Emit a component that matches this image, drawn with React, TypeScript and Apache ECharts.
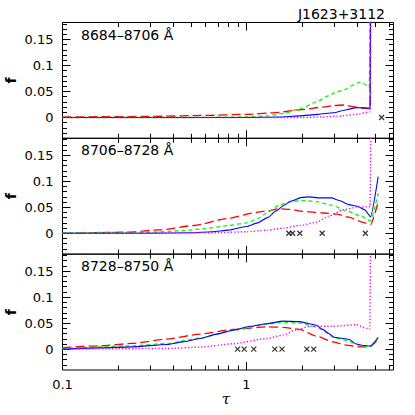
import React, { useEffect, useRef } from "react";
import * as echarts from "echarts";

// ---- data ----
const PANEL_LABELS = ["8684–8706 Å", "8706–8728 Å", "8728–8750 Å"];
const TITLE = "J1623+3112";

const TAU_MAJOR = [0.1, 1];
const TAU_MINOR = [0.2, 0.3, 0.4, 0.5, 0.6, 0.7, 0.8, 0.9, 2, 3, 4, 5, 6];
const F_MAJOR = [0, 0.05, 0.1, 0.15];
const F_MINOR = [-0.03, -0.02, -0.01, 0.01, 0.02, 0.03, 0.04, 0.06, 0.07, 0.08, 0.09, 0.11, 0.12, 0.13, 0.14, 0.16, 0.17, 0.18];

// panel 1
const red1 = [[0.1, 0.001], [0.3, 0.002], [0.6, 0.004], [1, 0.006], [1.4, 0.009], [2, 0.015], [2.6, 0.02], [3.0, 0.023], [3.4, 0.024], [3.8, 0.021], [4.2, 0.018], [4.7, 0.017], [4.76, 0.5]];
const green1 = [[0.1, 0], [0.5, 0], [1, 0.001], [1.3, 0.003], [1.6, 0.008], [2, 0.018], [2.4, 0.03], [2.8, 0.042], [3.1, 0.049], [3.4, 0.053], [3.8, 0.062], [4.15, 0.068], [4.4, 0.064], [4.65, 0.057], [4.76, 0.5]];
const blue1 = [[0.1, 0], [0.5, 0], [1, 0], [1.5, 0.001], [1.94, 0.003], [2.45, 0.006], [2.96, 0.009], [3.5, 0.015], [3.95, 0.019], [4.4, 0.0185], [4.7, 0.018], [4.76, 0.5]];
const magenta1 = [[0.1, 0], [1, 0], [2, 0], [2.6, 0.001], [3.3, 0.003], [4.1, 0.007], [4.7, 0.011], [4.77, 0.5]];
const marks1 = [5.43];

// panel 2
const red2 = [[0.1, 0], [0.22, 0.002], [0.34, 0.0065], [0.52, 0.015], [0.78, 0.028], [1.13, 0.04], [1.3, 0.043], [1.5, 0.047], [1.72, 0.046], [2.03, 0.042], [2.6, 0.039], [3.1, 0.037], [3.6, 0.031], [4.3, 0.021], [4.72, 0.016], [5.2, 0.06]];
const green2 = [[0.1, 0.001], [0.3, 0.002], [0.45, 0.005], [0.6, 0.009], [0.8, 0.015], [1, 0.02], [1.15, 0.028], [1.3, 0.04], [1.5, 0.054], [1.75, 0.061], [2.0, 0.063], [2.4, 0.061], [2.9, 0.054], [3.5, 0.043], [4.2, 0.033], [4.72, 0.024], [5.2, 0.077]];
const blue2 = [[0.1, 0], [0.3, 0], [0.5, 0.001], [0.65, 0.003], [0.8, 0.006], [1, 0.013], [1.15, 0.02], [1.3, 0.03], [1.45, 0.043], [1.6, 0.054], [1.75, 0.062], [2.0, 0.069], [2.2, 0.07], [2.5, 0.068], [2.9, 0.068], [3.2, 0.063], [3.6, 0.055], [4.0, 0.052], [4.4, 0.045], [4.72, 0.032], [5.2, 0.109]];
const magenta2 = [[0.1, 0], [0.7, 0.001], [1, 0.003], [1.3, 0.006], [1.6, 0.01], [1.95, 0.015], [2.4, 0.021], [2.8, 0.033], [3.35, 0.045], [3.95, 0.05], [4.7, 0.051], [4.8, 0.5]];
const marks2 = [1.7, 1.78, 1.95, 2.58, 4.43];

// panel 3
const red3 = [[0.1, 0.003], [0.16, 0.0065], [0.24, 0.011], [0.37, 0.0195], [0.56, 0.029], [0.85, 0.038], [1.29, 0.043], [1.58, 0.042], [1.94, 0.038], [2.4, 0.025], [2.96, 0.014], [3.5, 0.0077], [4.1, 0.0045], [4.65, 0.004], [5.2, 0.019]];
const green3 = [[0.1, 0.0013], [0.24, 0.0065], [0.37, 0.011], [0.56, 0.0215], [0.85, 0.0365], [1.29, 0.048], [1.58, 0.052], [1.94, 0.05], [2.4, 0.043], [2.7, 0.033], [3.0, 0.022], [3.5, 0.017], [3.95, 0.0096], [4.3, 0.006], [4.7, 0.005], [5.2, 0.021]];
const blue3 = [[0.1, 0], [0.16, 0.0025], [0.24, 0.0045], [0.37, 0.009], [0.45, 0.014], [0.56, 0.0205], [0.69, 0.029], [0.85, 0.0365], [1.05, 0.044], [1.29, 0.049], [1.58, 0.054], [1.94, 0.053], [2.2, 0.049], [2.4, 0.046], [2.6, 0.038], [2.8, 0.03], [3.0, 0.023], [3.3, 0.021], [3.6, 0.019], [3.95, 0.01], [4.3, 0.007], [4.7, 0.006], [5.2, 0.023]];
const magenta3 = [[0.1, 0], [0.37, 0.0013], [0.56, 0.004], [0.85, 0.0105], [1.29, 0.0205], [1.58, 0.027], [1.87, 0.037], [2.2, 0.044], [2.96, 0.044], [3.95, 0.047], [4.5, 0.04], [4.68, 0.038], [4.78, 0.5]];
const marks3 = [0.895, 0.972, 1.096, 1.426, 1.56, 2.13, 2.32];

const PANELS = [
  { red: red1, green: green1, blue: blue1, magenta: magenta1, marks: marks1 },
  { red: red2, green: green2, blue: blue2, magenta: magenta2, marks: marks2 },
  { red: red3, green: green3, blue: blue3, magenta: magenta3, marks: marks3 },
];

// ---- layout ----
const GRID_LEFT = 62.5;
const GRID_WIDTH = 331;
const GRID_TOPS = [22.5, 138.3, 254.2];
const GRID_HEIGHT = 115.8;
const X_MIN = 0.1;
const X_MAX = 6.3;
const Y_MIN = -0.04;
const Y_MAX = 0.1825;
const FONT = "DejaVu Sans";

const fmt = (v: number) => String(Number(v.toFixed(4)));

export default function App() {
  const ref = useRef<HTMLDivElement>(null);
  useEffect(() => {
    if (!ref.current) return;
    const chart = echarts.init(ref.current, null, { renderer: "svg" });

    const grid: any[] = [];
    const xAxis: any[] = [];
    const yAxis: any[] = [];
    const series: any[] = [];
    const graphic: any[] = [];

    GRID_TOPS.forEach((top, g) => {
      grid.push({
        left: GRID_LEFT,
        width: GRID_WIDTH,
        top,
        height: GRID_HEIGHT,
        show: true,
        borderColor: "#000",
        borderWidth: 1,
        backgroundColor: "transparent",
      });
      const xDefs = [
        { pos: "bottom", vals: TAU_MAJOR, len: 8, label: g === 2 },
        { pos: "bottom", vals: TAU_MINOR, len: 4.5, label: false },
        { pos: "top", vals: TAU_MAJOR, len: 8, label: false },
        { pos: "top", vals: TAU_MINOR, len: 4.5, label: false },
      ];
      xDefs.forEach((d) => {
        xAxis.push({
          type: "log",
          logBase: 10,
          gridIndex: g,
          position: d.pos,
          min: X_MIN,
          max: X_MAX,
          axisLine: { show: false, onZero: false },
          splitLine: { show: false },
          axisTick: {
            show: true,
            inside: true,
            length: d.len,
            customValues: d.vals,
            lineStyle: { color: "#000", width: 1 },
          },
          axisLabel: {
            show: d.label,
            customValues: d.vals,
            formatter: (v: number) => fmt(v),
            color: "#000",
            fontSize: 13,
            fontFamily: FONT,
            margin: 8,
          },
        });
      });
      const yDefs = [
        { pos: "left", vals: F_MAJOR, len: 8, label: true },
        { pos: "left", vals: F_MINOR, len: 4.5, label: false },
        { pos: "right", vals: F_MAJOR, len: 8, label: false },
        { pos: "right", vals: F_MINOR, len: 4.5, label: false },
      ];
      yDefs.forEach((d) => {
        yAxis.push({
          type: "value",
          gridIndex: g,
          position: d.pos,
          min: Y_MIN,
          max: Y_MAX,
          axisLine: { show: false, onZero: false },
          splitLine: { show: false },
          axisTick: {
            show: true,
            inside: true,
            length: d.len,
            customValues: d.vals,
            lineStyle: { color: "#000", width: 1 },
          },
          axisLabel: {
            show: d.label,
            customValues: d.vals,
            formatter: (v: number) => fmt(v),
            color: "#000",
            fontSize: 13,
            fontFamily: FONT,
            margin: 9,
          },
        });
      });

      const p = PANELS[g];
      const base = {
        type: "line",
        xAxisIndex: 4 * g,
        yAxisIndex: 4 * g,
        showSymbol: false,
        symbol: "none",
        smooth: 0.2,
        smoothMonotone: "x",
        clip: true,
        silent: true,
      };
      series.push({ ...base, name: "red" + g, data: p.red, lineStyle: { color: "#ff0000", width: 1.3, type: [9, 4] } });
      series.push({ ...base, name: "green" + g, data: p.green, lineStyle: { color: "#00ff00", width: 1.3, type: [4, 3] } });
      series.push({ ...base, name: "blue" + g, data: p.blue, lineStyle: { color: "#0000ff", width: 1.1, type: "solid" } });
      series.push({ ...base, name: "magenta" + g, data: p.magenta, lineStyle: { color: "#ff00ff", width: 1.4, type: [1.3, 2] } });
      series.push({
        type: "scatter",
        name: "marks" + g,
        xAxisIndex: 4 * g,
        yAxisIndex: 4 * g,
        data: p.marks.map((t) => [t, 0]),
        symbol: "path://M0 0L10 10M10 0L0 10",
        symbolSize: 5,
        itemStyle: { color: "transparent", borderColor: "#000", borderWidth: 1.2 },
        silent: true,
      });

      graphic.push({
        type: "text",
        x: 81,
        y: top + 12,
        style: {
          text: PANEL_LABELS[g],
          fill: "#000",
          font: `14px ${FONT}`,
          textAlign: "left",
          textVerticalAlign: "middle",
        },
      });
      graphic.push({
        type: "text",
        x: 11,
        y: top + GRID_HEIGHT / 2,
        rotation: Math.PI / 2,
        style: {
          text: "f",
          fill: "#000",
          font: `bold 14px ${FONT}`,
          textAlign: "center",
          textVerticalAlign: "middle",
        },
      });
    });

    graphic.push({
      type: "text",
      x: 385,
      y: 14,
      style: {
        text: TITLE,
        fill: "#000",
        font: `14px ${FONT}`,
        textAlign: "right",
        textVerticalAlign: "middle",
      },
    });
    graphic.push({
      type: "text",
      x: 226,
      y: 399,
      style: {
        text: "τ",
        fill: "#000",
        font: `italic 15px 'DejaVu Serif'`,
        textAlign: "center",
        textVerticalAlign: "middle",
      },
    });

    chart.setOption({
      animation: false,
      backgroundColor: "#fff",
      grid,
      xAxis,
      yAxis,
      series,
      graphic,
    });
    return () => chart.dispose();
  }, []);
  return (
    <div
      ref={ref}
      style={{ position: "fixed", left: 0, top: 0, width: 415, height: 415 }}
    />
  );
}
